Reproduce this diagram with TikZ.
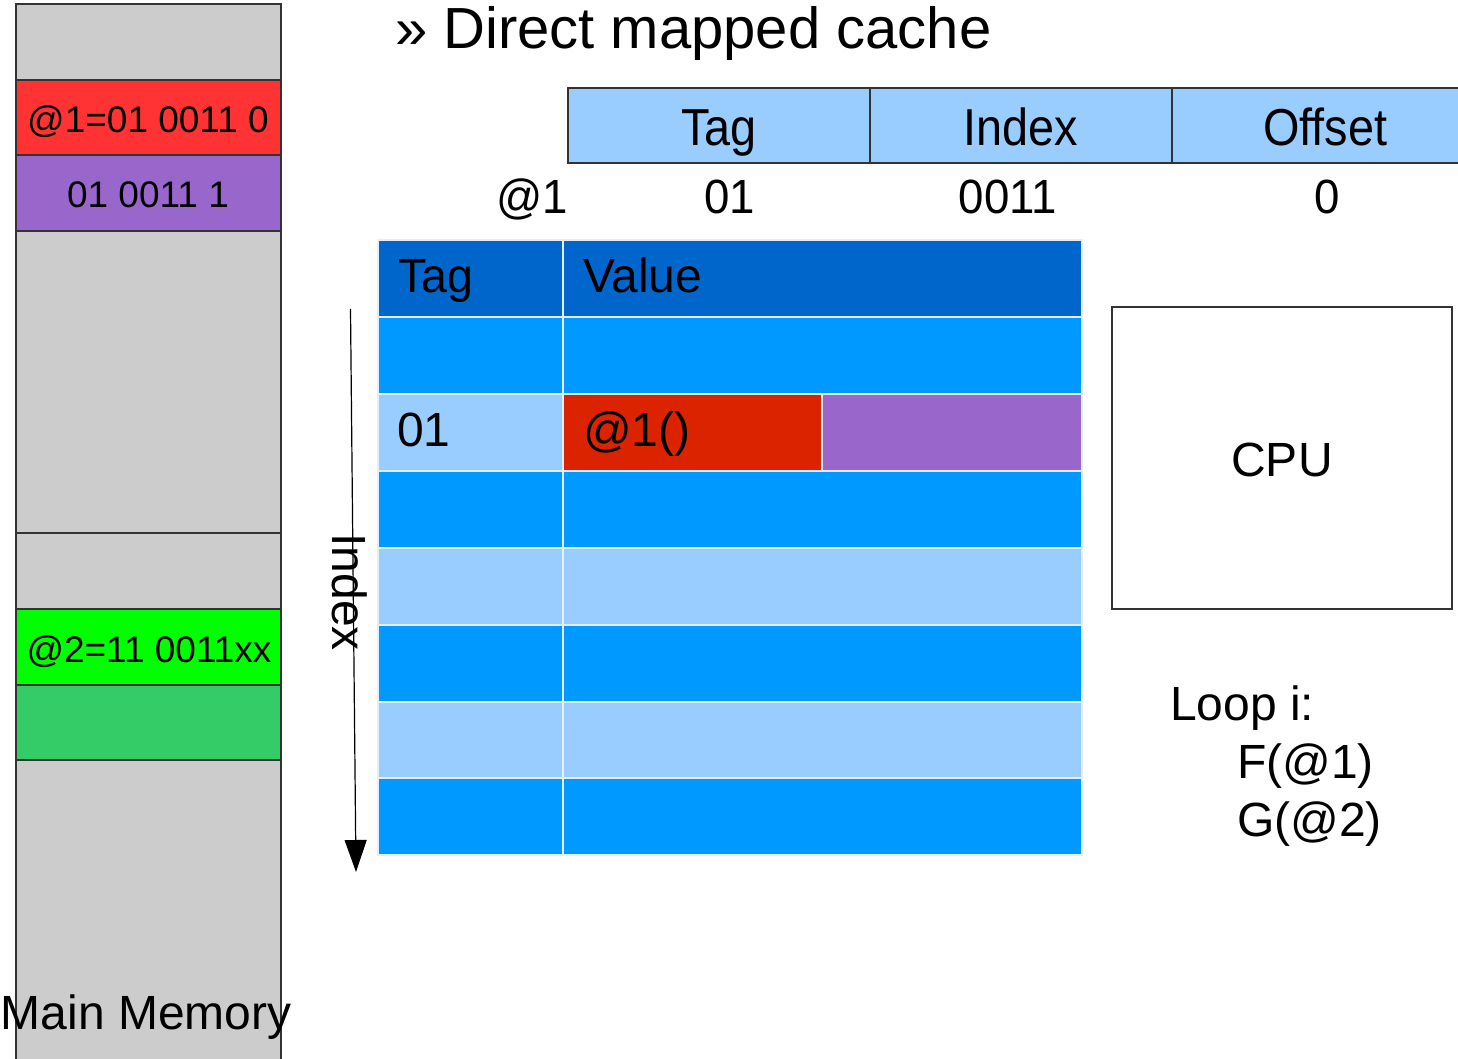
\documentclass[tikz,border=0pt]{standalone}
\usepackage{fontspec}
\setmainfont{Liberation Sans}
\usetikzlibrary{arrows.meta}
\definecolor{memgray}{HTML}{CCCCCC}
\definecolor{memred}{HTML}{FF3333}
\definecolor{lilac}{HTML}{9966CC}
\definecolor{limeg}{HTML}{00FF00}
\definecolor{midg}{HTML}{33CC66}
\definecolor{paleblue}{HTML}{99CCFF}
\definecolor{darkblue}{HTML}{0066CC}
\definecolor{brightblue}{HTML}{0099FF}
\definecolor{cachered}{HTML}{DC2300}
\definecolor{edge}{HTML}{333333}
\definecolor{gridline}{HTML}{E4EEF8}
\newcommand\setfs[1]{\fontsize{#1}{#1}\selectfont}
\tikzset{
  lbl/.style={inner sep=0pt, outer sep=0pt, text=black},
  memtxt/.style={lbl, font=\setfs{18.5pt}, anchor=base},
  bigtxt/.style={lbl, font=\setfs{24pt}},
  fieldtxt/.style={lbl, font=\setfs{26pt}, anchor=base},
  titletxt/.style={lbl, font=\setfs{29pt}},
  membox/.style={draw=edge, line width=0.6pt},
  cell/.style={draw=gridline, line width=0.8pt},
  framebox/.style={draw=edge, line width=0.6pt},
}
\begin{document}
\begin{tikzpicture}[x=0.5pt, y=-0.5pt]
\useasboundingbox (0,0) rectangle (1458,1059);

% ---- main memory column ----
\fill[memgray] (16,4) rectangle (281,1062);
\filldraw[membox, fill=memred] (16,80) rectangle (281,155);
\filldraw[membox, fill=lilac] (16,155) rectangle (281,231);
\filldraw[membox, fill=limeg] (16,609) rectangle (281,685);
\filldraw[membox, fill=midg] (16,685) rectangle (281,760);
\draw[membox] (16,533) -- (281,533);
\draw[membox] (16,1062) -- (16,4) -- (281,4) -- (281,1062);
\node[memtxt] (m1) at (148,133) {@1=01 0011 0};
\node[memtxt] (m2) at (148,208) {01 0011 1};
\node[memtxt] (m3) at (149,662) {@2=11 0011xx};
\node[bigtxt, anchor=base west] (mm) at (1,1029) {Main Memory};

% ---- title ----
\node[titletxt, anchor=base west] (title) at (395,49) {» Direct mapped cache};

% ---- address fields ----
\fill[paleblue] (568,88) rectangle (1458,163);
\draw[framebox] (1458,88) -- (568,88) -- (568,163) -- (1458,163);
\draw[framebox] (870,88) -- (870,163);
\draw[framebox] (1172,88) -- (1172,163);
\node[fieldtxt] (ftag) at (719,146) {\scalebox{0.9}[1]{Tag}};
\node[fieldtxt] (findex) at (1021,146) {\scalebox{0.9}[1]{Index}};
\node[fieldtxt] (foffset) at (1325,146) {\scalebox{0.9}[1]{Offset}};

\node[bigtxt, anchor=base east] (a1) at (568,214) {\scalebox{0.95}[1]{@1}};
\node[bigtxt, anchor=base] (vtag) at (730,214) {\scalebox{0.95}[1]{01}};
\node[bigtxt, anchor=base] (vindex) at (1008,214) {\scalebox{0.95}[1]{0011}};
\node[bigtxt, anchor=base] (voffset) at (1327,214) {\scalebox{0.95}[1]{0}};

% ---- cache table ----
\filldraw[cell, fill=darkblue] (378,240) rectangle (563,317);
\filldraw[cell, fill=darkblue] (563,240) rectangle (1082,317);
\foreach \ya/\yb/\c in {317/394/brightblue, 471/548/brightblue, 548/625/paleblue,
                        625/702/brightblue, 702/778/paleblue, 778/855/brightblue}{
  \filldraw[cell, fill=\c] (378,\ya) rectangle (563,\yb);
  \filldraw[cell, fill=\c] (563,\ya) rectangle (1082,\yb);
}
\filldraw[cell, fill=paleblue] (378,394) rectangle (563,471);
\filldraw[cell, fill=cachered] (563,394) rectangle (822,471);
\filldraw[cell, fill=lilac] (822,394) rectangle (1082,471);

\node[bigtxt, anchor=base west] (htag) at (398,293) {\scalebox{0.97}[1]{Tag}};
\node[bigtxt, anchor=base west] (hval) at (583,293) {Value};
\node[bigtxt, anchor=base west] (ctag) at (397,447) {01};
\node[bigtxt, anchor=base west] (cval) at (583,447) {@1()};

% ---- index axis ----
\coordinate (ixtop) at (350.5,309);
\coordinate (ixend) at (356,872);
\draw[line width=0.6pt, -{Triangle[length=16pt, width=11pt]}] (ixtop) -- (ixend);
\node[bigtxt, rotate=-90] (ixlbl) at (350,592) {Index};

% ---- CPU ----
\draw[framebox] (1112,307) rectangle (1452,609);
\node[bigtxt] (cpu) at (1282,460) {CPU};

% ---- loop ----
\node[bigtxt, anchor=base west] (loop) at (1170,720) {Loop i:};
\node[bigtxt, anchor=base west] (fcall) at (1237,778) {F(@1)};
\node[bigtxt, anchor=base west] (gcall) at (1237,836) {G(@2)};
\end{tikzpicture}
\end{document}
